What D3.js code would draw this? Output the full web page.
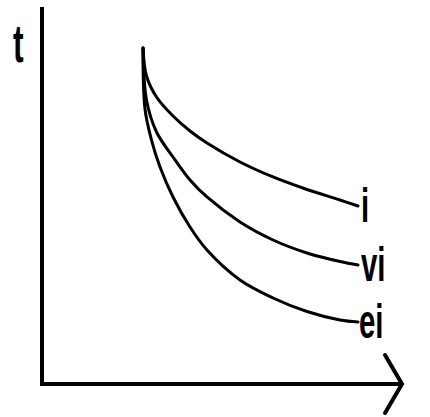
<!DOCTYPE html>
<html>
<head>
<meta charset="utf-8">
<script src="https://cdn.jsdelivr.net/npm/d3@7"></script>
<style>
  html, body { margin: 0; padding: 0; background: #fff; }
  svg { display: block; }
  .lbl { font-family: "Liberation Sans", Arial, sans-serif; font-weight: bold; fill: #000; }
</style>
</head>
<body>
<svg id="chart" width="430" height="417"></svg>
<script>
// Curve samples (x, t) for each series
const iX  = [2.806, 2.903, 3.181, 3.639, 4.111, 4.583, 5.500, 6.417, 7.361, 8.278, 8.778];
const iT  = [8.915, 8.175, 7.619, 7.116, 6.720, 6.402, 5.899, 5.503, 5.172, 4.894, 4.735];
const viX = [2.806, 2.903, 3.181, 3.639, 4.111, 4.583, 5.500, 6.417, 7.361, 8.278, 8.778];
const viT = [8.915, 7.540, 6.693, 6.032, 5.423, 4.974, 4.312, 3.836, 3.492, 3.267, 3.175];
const eiX = [2.806, 2.861, 3.042, 3.278, 3.639, 4.111, 4.583, 5.500, 6.417, 7.361, 8.278, 8.778];
const eiT = [8.915, 7.302, 6.481, 5.767, 4.974, 4.180, 3.571, 2.778, 2.302, 1.944, 1.720, 1.667];
const seriesNames = ["i", "vi", "ei"];
const axisLabel = "t";

const series = [
  { name: seriesNames[0], xs: iX,  ts: iT  },
  { name: seriesNames[1], xs: viX, ts: viT },
  { name: seriesNames[2], xs: eiX, ts: eiT }
];

const svg = d3.select("#chart");

const x = d3.scaleLinear().domain([0, 10]).range([42, 402]);
const y = d3.scaleLinear().domain([0, 10]).range([385, 7]);

// Axes: vertical t-axis and horizontal axis ending in an open arrowhead
const x0 = x(0), y0 = y(0);
svg.append("line")
  .attr("x1", x0).attr("y1", y(10))
  .attr("x2", x0).attr("y2", y0)
  .attr("stroke", "#000").attr("stroke-width", 4);

svg.append("line")
  .attr("x1", x0 - 2).attr("y1", y0 - 1)
  .attr("x2", x(10) - 1).attr("y2", y0 - 1)
  .attr("stroke", "#000").attr("stroke-width", 4);

svg.append("path")
  .attr("d", d3.line()([[x(10) - 17, y0 - 30], [x(10), y0 - 1], [x(10) - 17, y0 + 28]]))
  .attr("fill", "none").attr("stroke", "#000").attr("stroke-width", 4)
  .attr("stroke-linecap", "round").attr("stroke-linejoin", "miter");

// Curves
const line = d3.line()
  .x(d => x(d[0]))
  .y(d => y(d[1]))
  .curve(d3.curveCatmullRom.alpha(0.5));

// Label baseline offsets below each curve's end point
const labelDy = [16, 16, 16];

series.forEach((s, k) => {
  const pts = s.xs.map((v, j) => [v, s.ts[j]]);
  svg.append("path")
    .attr("d", line(pts))
    .attr("fill", "none")
    .attr("stroke", "#000")
    .attr("stroke-width", 3)
    .attr("stroke-linecap", "round");
  const last = pts[pts.length - 1];
  svg.append("text")
    .attr("class", "lbl")
    .attr("transform", `translate(${x(last[0]) + (k === 2 ? 1 : 3)},${y(last[1]) + labelDy[k]}) scale(0.6,1)`)
    .attr("font-size", 49)
    .text(s.name);
});

// Axis label
svg.append("text")
  .attr("class", "lbl")
  .attr("transform", "translate(13,62) scale(0.6,1)")
  .attr("font-size", 53)
  .text(axisLabel);
</script>
</body>
</html>
